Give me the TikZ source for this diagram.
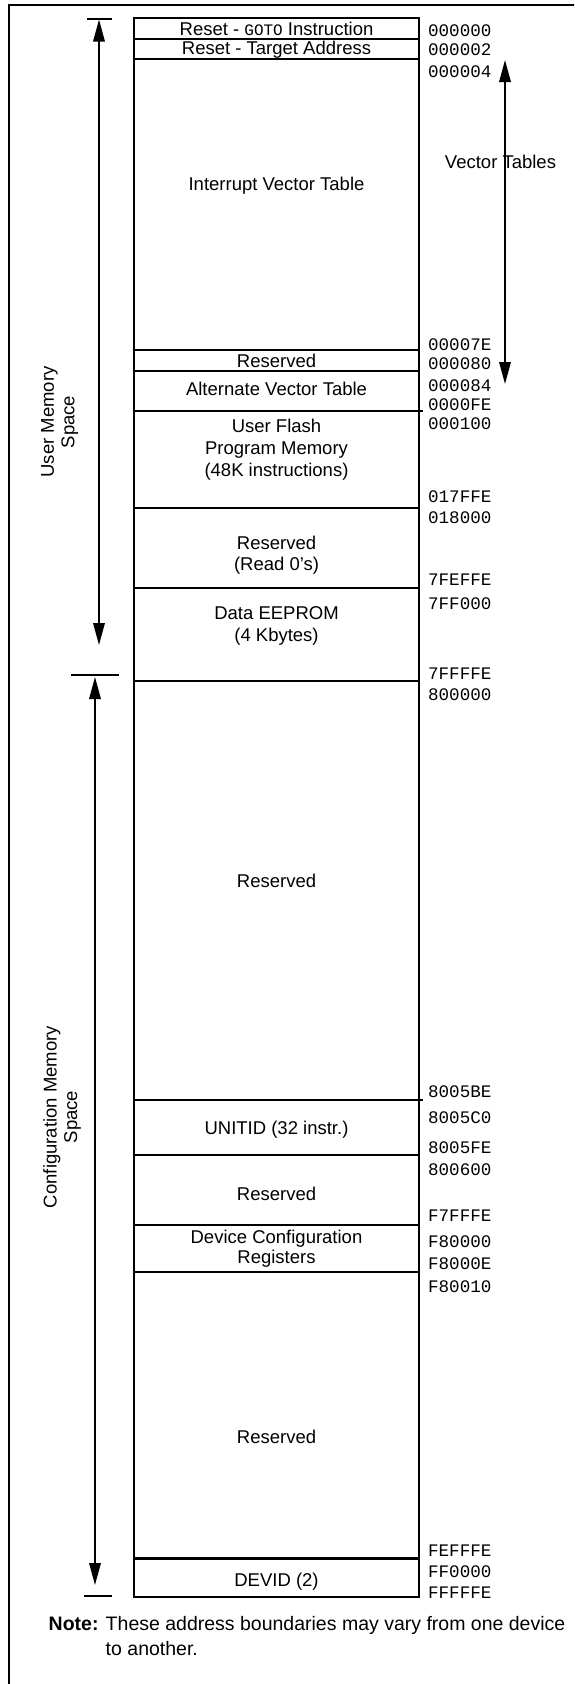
\documentclass[tikz,border=0pt]{standalone}
\usepackage{fontspec}
\setmainfont{Liberation Sans}
\setmonofont{Liberation Mono}
\usetikzlibrary{arrows.meta}

\begin{document}
\begin{tikzpicture}[x=1pt,y=-1pt,line width=2.2pt]
\useasboundingbox (0,0) rectangle (574,1684);
\clip (0,0) rectangle (574,1684);
\draw[line width=2pt] (9,5) rectangle (600,1720);

% memory map column
\draw (134,18.3) rectangle (419,1596.7);
\draw (134,38.7) -- (419,38.7);
\draw (134,59.3) -- (419,59.3);
\draw (134,350) -- (419,350);
\draw (134,370.7) -- (419,370.7);
\draw (134,410.7) -- (423,410.7);
\draw (134,508) -- (419,508);
\draw (134,588) -- (419,588);
\draw (134,680.7) -- (419,680.7);
\draw (134,1100) -- (423,1100);
\draw (134,1155) -- (419,1155);
\draw (134,1225) -- (419,1225);
\draw (134,1272) -- (419,1272);
\draw (134,1558.5) -- (419,1558.5);

\begin{scope}[every node/.style={font=\fontsize{18.5}{22}\selectfont,align=center,inner sep=0pt}]
    \node (goto) at (276.5,28.5) {Reset - {\ttfamily\fontsize{16}{16}\selectfont GOTO} Instruction};
    \node (target) at (276.5,49.5) {Reset - Target Address};
    \node (ivt) at (276.5,186) {Interrupt Vector Table};
    \node (resv_a) at (276.5,361) {Reserved};
    \node (avt) at (276.5,389) {Alternate Vector Table};
    \node[font=\fontsize{18.5}{22}\selectfont] (flash) at (276.5,450) {User Flash\\Program Memory\\(48K instructions)};
    \node[font=\fontsize{18.5}{20.5}\selectfont] (resv_b) at (276.5,555) {Reserved\\(Read 0's)};
    \node[font=\fontsize{18.5}{22}\selectfont] (eeprom) at (276.5,626) {Data EEPROM\\(4 Kbytes)};
    \node (resv_c) at (276.5,881) {Reserved};
    \node (unitid) at (276.5,1129.5) {UNITID (32 instr.)};
    \node (resv_d) at (276.5,1194) {Reserved};
    \node[font=\fontsize{18.5}{20}\selectfont] (devcfg) at (276.5,1248.5) {Device Configuration\\Registers};
    \node (resv_e) at (276.5,1436.5) {Reserved};
    \node (devid) at (276.5,1581.5) {DEVID (2)};
    \node[rotate=90,font=\fontsize{18.5}{20.5}\selectfont] (user_lbl) at (59.6,422) {User Memory\\Space};
    \node[rotate=90,font=\fontsize{18.5}{20.5}\selectfont] (conf_lbl) at (62,1117) {Configuration Memory\\Space};
\end{scope}

\begin{scope}[every node/.style={anchor=west,inner sep=0pt,font=\ttfamily\fontsize{17.6}{20}\selectfont}]
    \node (a000000) at (427,30.5) {000000};
    \node (a000002) at (427,49.3) {000002};
    \node (a000004) at (427,71.7) {000004};
    \node (a00007E) at (427,345) {00007E};
    \node (a000080) at (427,363.3) {000080};
    \node (a000084) at (427,385.3) {000084};
    \node (a0000FE) at (427,405) {0000FE};
    \node (a000100) at (427,424) {000100};
    \node (a017FFE) at (427,496.7) {017FFE};
    \node (a018000) at (427,518) {018000};
    \node (a7FEFFE) at (427,580) {7FEFFE};
    \node (a7FF000) at (427,604) {7FF000};
    \node (a7FFFFE) at (427,673.3) {7FFFFE};
    \node (a800000) at (427,695) {800000};
    \node (a8005BE) at (427,1091.7) {8005BE};
    \node (a8005C0) at (427,1117.3) {8005C0};
    \node (a8005FE) at (427,1147.3) {8005FE};
    \node (a800600) at (427,1170) {800600};
    \node (aF7FFFE) at (427,1216) {F7FFFE};
    \node (aF80000) at (427,1241.7) {F80000};
    \node (aF8000E) at (427,1263.3) {F8000E};
    \node (aF80010) at (427,1286.7) {F80010};
    \node (aFEFFFE) at (427,1550.7) {FEFFFE};
    \node (aFF0000) at (427,1571.7) {FF0000};
    \node (aFFFFFE) at (427,1592.7) {FFFFFE};
\end{scope}

% span arrows
\coordinate (user_top) at (99,19.5);
\coordinate (user_bot) at (99,645);
\coordinate (conf_top) at (95,677);
\coordinate (conf_bot) at (95,1585);
\coordinate (vec_top) at (505,60);
\coordinate (vec_bot) at (505,384);

\begin{scope}[>={Triangle[length=22pt,width=11.5pt]},line width=1.8pt]
    \draw[<->] (user_top) -- (user_bot);
    \draw[<->] (conf_top) -- (conf_bot);
    \draw[<->] (vec_top) -- (vec_bot);
    \draw (87,18.7) -- (111.5,18.7);
    \draw (71,675) -- (119,675);
    \draw (84,1596) -- (112,1596);
\end{scope}

\node[font=\fontsize{18.5}{22}\selectfont,inner sep=0pt] (vec_lbl) at (500.5,161.7) {Vector Tables};

\node[anchor=west,align=left,inner sep=0pt,font=\fontsize{19.5}{25}\selectfont] (note) at (47.6,1636)
    {\textbf{Note:} These address boundaries may vary from one device\\\phantom{\textbf{Note:} }to another.};
\end{tikzpicture}
\end{document}
